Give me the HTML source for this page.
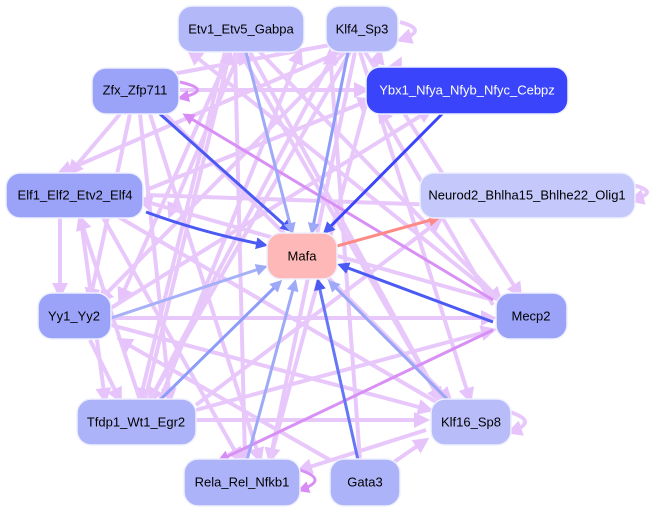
<!DOCTYPE html>
<html><head><meta charset="utf-8"><style>
html,body{margin:0;padding:0;background:#fff;width:666px;height:512px;overflow:hidden}
svg{display:block}
text{font-family:"Liberation Sans",sans-serif;font-size:13px;text-anchor:middle;dominant-baseline:central}
</style></head><body>
<svg width="666" height="512" viewBox="0 0 666 512" xmlns="http://www.w3.org/2000/svg">
<defs>
<marker id="ap" markerWidth="4" markerHeight="4" refX="3" refY="2" orient="auto" markerUnits="strokeWidth"><path d="M0,0L4,2L0,4z" fill="#e6c4fb"/></marker>
<marker id="am" markerWidth="4" markerHeight="4" refX="3" refY="2" orient="auto" markerUnits="strokeWidth"><path d="M0,0L4,2L0,4z" fill="#d88af5"/></marker>
<marker id="ab" markerWidth="4" markerHeight="4" refX="3" refY="2" orient="auto" markerUnits="strokeWidth"><path d="M0,0L4,2L0,4z" fill="#4a5af2"/></marker>
<marker id="al" markerWidth="4" markerHeight="4" refX="3" refY="2" orient="auto" markerUnits="strokeWidth"><path d="M0,0L4,2L0,4z" fill="#9eaaf8"/></marker>
<marker id="as" markerWidth="4" markerHeight="4" refX="3" refY="2" orient="auto" markerUnits="strokeWidth"><path d="M0,0L4,2L0,4z" fill="#ff8a85"/></marker>
</defs>
<g fill="none" stroke="#e8c8fb" stroke-width="4" marker-end="url(#ap)">
<path d="M240,52L170,215"/><path d="M230,52L120,300"/><path d="M225,52L140,400"/><path d="M235,52L245,460"/>
<path d="M250,52L440,400"/><path d="M260,52L500,300"/><path d="M340,52L60,173"/><path d="M345,52L100,300"/>
<path d="M350,52L150,400"/><path d="M355,52L270,460"/><path d="M360,52L470,400"/><path d="M365,52L520,295"/>
<path d="M330,45L140,80"/><path d="M120,114L70,173"/><path d="M130,114L90,300"/><path d="M140,114L170,400"/>
<path d="M150,114L260,460"/><path d="M165,114L450,400"/><path d="M180,90L366,90"/><path d="M100,212L240,460"/>
<path d="M110,212L450,410"/><path d="M80,212L105,400"/><path d="M60,218L60,295"/><path d="M146,195L440,205"/>
<path d="M146,190L370,100"/><path d="M111,318L493,318"/><path d="M111,308L430,110"/><path d="M111,325L430,410"/>
<path d="M90,340L120,400"/><path d="M196,420L426,420"/><path d="M196,410L493,330"/><path d="M150,400L335,52"/>
<path d="M145,400L230,52"/><path d="M140,400L80,218"/><path d="M160,400L300,52"/><path d="M196,405L440,220"/>
<path d="M270,460L380,52"/><path d="M360,460L330,52"/><path d="M330,460L120,340"/><path d="M394,462L426,440"/>
<path d="M426,430L300,470"/><path d="M440,400L240,52"/><path d="M493,305L380,110"/><path d="M500,300L190,52"/>
<path d="M493,300L140,200"/><path d="M390,80L400,60"/><path d="M280,55L250,20"/>
<path d="M400,22Q430,30 400,40"/><path d="M632,185Q662,192 632,200"/><path d="M510,412Q540,422 510,432"/>
</g>
<g fill="none" stroke="#d890f5" stroke-width="3" marker-end="url(#am)">
<path d="M493,300L185,115"/><path d="M180,82Q215,90 180,98"/><path d="M300,470Q330,480 300,490"/><path d="M493,330L220,460"/>
</g>
<g fill="none" stroke-width="3">
<path d="M160,114L290,230" stroke="#4a5af2" marker-end="url(#ab)"/>
<path d="M146,212Q200,232 265,245" stroke="#4a5af2" marker-end="url(#ab)"/>
<path d="M443,113L325,232" stroke="#3a45fb" marker-end="url(#ab)"/>
<path d="M493,322L340,265" stroke="#4a5af2" marker-end="url(#ab)"/>
<path d="M358,460L318,281" stroke="#6677f5" marker-end="url(#ab)"/>
<path d="M246,52L292,232" stroke="#9eaaf8" marker-end="url(#al)"/>
<path d="M348,52L312,232" stroke="#8c9cf8" marker-end="url(#al)"/>
<path d="M448,400L330,282" stroke="#99a5f5" marker-end="url(#al)"/>
<path d="M247,460L295,282" stroke="#9eaaf8" marker-end="url(#al)"/>
<path d="M160,400L280,282" stroke="#8c9cf8" marker-end="url(#al)"/>
<path d="M111,318L265,267" stroke="#a5b0f8" marker-end="url(#al)"/>
<path d="M337,246L438,218" stroke="#ff8a85" marker-end="url(#as)"/>
</g>
<g stroke="#eef0ff" stroke-width="1.5">
<rect x="178" y="6" width="126" height="46" rx="14" fill="#b3b8f8"/>
<rect x="326" y="6" width="72" height="46" rx="14" fill="#b3b8f8"/>
<rect x="92" y="68" width="87" height="46" rx="14" fill="#9ba3f8"/>
<rect x="366" y="67" width="202" height="47" rx="14" fill="#3a45fb"/>
<rect x="6" y="173" width="137" height="45" rx="14" fill="#9ba3f8"/>
<rect x="420" y="173" width="215" height="45" rx="14" fill="#c4c8fb"/>
<rect x="267" y="233" width="70" height="46" rx="14" fill="#ffb8b8"/>
<rect x="38" y="293" width="73" height="46" rx="14" fill="#9ba3f8"/>
<rect x="496" y="293" width="71" height="46" rx="14" fill="#9ba3f8"/>
<rect x="77" y="399" width="119" height="46" rx="14" fill="#adb3f8"/>
<rect x="431" y="399" width="80" height="46" rx="14" fill="#b8bdf9"/>
<rect x="184" y="459" width="116" height="47" rx="14" fill="#adb3f8"/>
<rect x="330" y="459" width="70" height="47" rx="14" fill="#adb3f8"/>
</g>
<g fill="#000">
<text x="241" y="29">Etv1_Etv5_Gabpa</text>
<text x="362" y="29">Klf4_Sp3</text>
<text x="135" y="90">Zfx_Zfp711</text>
<text x="467" y="90" fill="#fff">Ybx1_Nfya_Nfyb_Nfyc_Cebpz</text>
<text x="75" y="195">Elf1_Elf2_Etv2_Elf4</text>
<text x="527" y="195">Neurod2_Bhlha15_Bhlhe22_Olig1</text>
<text x="302" y="256">Mafa</text>
<text x="74" y="316">Yy1_Yy2</text>
<text x="531" y="316">Mecp2</text>
<text x="136" y="422">Tfdp1_Wt1_Egr2</text>
<text x="471" y="422">Klf16_Sp8</text>
<text x="242" y="482">Rela_Rel_Nfkb1</text>
<text x="365" y="482">Gata3</text>
</g>
</svg>
</body></html>
